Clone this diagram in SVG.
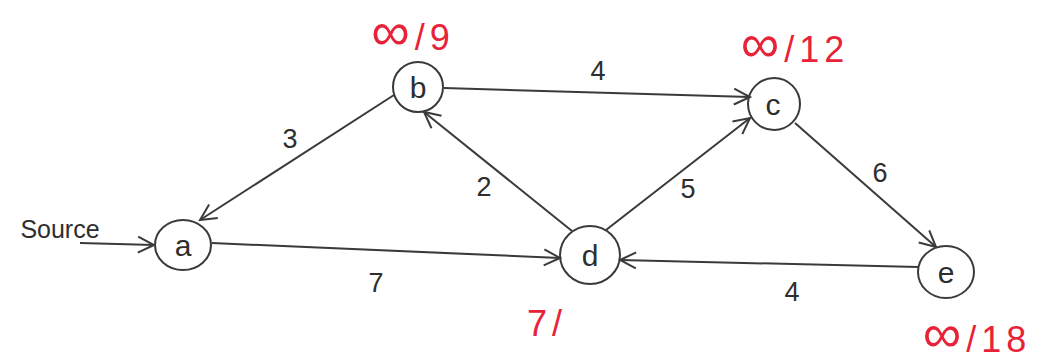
<svg xmlns="http://www.w3.org/2000/svg" width="1046" height="363" viewBox="0 0 1046 363">
<style>
.node{fill:none;stroke:#3a3a3a;stroke-width:2}
.lbl{font-family:"Liberation Sans",Arial,sans-serif;font-size:30px;fill:#2e2e2e;text-anchor:middle}
.w{font-family:"Liberation Sans",Arial,sans-serif;font-size:27px;fill:#2e2e2e;text-anchor:middle}
.red{font-family:"Liberation Sans",Arial,sans-serif;font-size:36px;fill:#e82238;text-anchor:middle;letter-spacing:5px}
.inf{font-size:54px}
.edge{fill:none;stroke:#3a3a3a;stroke-width:2;marker-end:url(#arr)}
</style>
<defs>
<marker id="arr" viewBox="0 0 20 20" refX="18" refY="10" markerWidth="20" markerHeight="20" markerUnits="userSpaceOnUse" orient="auto">
<path d="M2 2 L18 10 L2 18" fill="none" stroke="#3a3a3a" stroke-width="2"/>
</marker>
</defs>
<rect width="1046" height="363" fill="#ffffff"/>
<g id="connectors">
<line class="edge" x1="80" y1="243" x2="154" y2="245"/>
<line class="edge" x1="394" y1="95" x2="200" y2="220"/>
<line class="edge" x1="444" y1="88" x2="750" y2="97"/>
<line class="edge" x1="572" y1="231" x2="424" y2="112"/>
<line class="edge" x1="606" y1="230" x2="750" y2="118"/>
<line class="edge" x1="795" y1="123" x2="936" y2="247"/>
<line class="edge" x1="212" y1="243" x2="560" y2="258"/>
<line class="edge" x1="918" y1="267" x2="620" y2="260"/>
<text class="w" x="290" y="148">3</text>
<text class="w" x="598" y="80">4</text>
<text class="w" x="484" y="196">2</text>
<text class="w" x="688" y="198">5</text>
<text class="w" x="880" y="182">6</text>
<text class="w" x="376" y="292">7</text>
<text class="w" x="792" y="301">4</text>
<text class="w" x="60" y="238" style="font-size:25px">Source</text>
</g>
<g id="node-a"><ellipse class="node" cx="183" cy="245" rx="28" ry="25"/><text class="lbl" x="183" y="256">a</text></g>
<g id="node-b"><circle class="node" cx="418" cy="87" r="25"/><text class="lbl" x="418" y="98">b</text>
<text class="red" x="413" y="50"><tspan class="inf">∞</tspan>/9</text></g>
<g id="node-c"><circle class="node" cx="774" cy="104" r="26"/><text class="lbl" x="773" y="115">c</text>
<text class="red" x="795" y="62"><tspan class="inf">∞</tspan>/12</text></g>
<g id="node-d"><ellipse class="node" cx="590" cy="255" rx="30" ry="29"/><text class="lbl" x="590" y="266">d</text>
<text class="red" x="547" y="336">7/</text></g>
<g id="node-e"><ellipse class="node" cx="946" cy="272" rx="28" ry="26"/><text class="lbl" x="946" y="283">e</text>
<text class="red" x="977" y="352"><tspan class="inf">∞</tspan>/18</text></g>
</svg>
